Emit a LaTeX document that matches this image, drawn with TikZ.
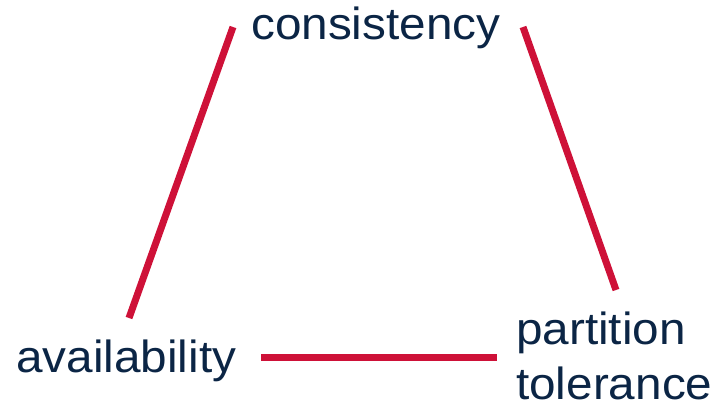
\documentclass[tikz,border=0pt]{standalone}
\usepackage{fontspec}
\usepackage{graphicx}
\setmainfont{Liberation Sans}
\definecolor{navy}{HTML}{0B2545}
\definecolor{crim}{HTML}{CE1138}
\newcommand{\wid}[1]{\scalebox{1.06}[1]{#1}}
\begin{document}
\begin{tikzpicture}[x=1pt,y=-1pt,
  lbl/.style={anchor=base west,inner sep=0pt,text=navy,font=\fontsize{45}{55}\selectfont,align=left},
  edge/.style={draw=crim,line width=7pt}]
\useasboundingbox (0,0) rectangle (720,405);
\node[lbl] (c) at (251,39) {\wid{consistency}};
\node[lbl] (a) at (16,372) {\wid{availability}};
\node[lbl,anchor=north west] (p) at (516,312) {\wid{partition}\\\wid{tolerance}};
\coordinate (c1) at (233,27);
\coordinate (a1) at (129,318);
\coordinate (c2) at (523,27);
\coordinate (p1) at (616,290);
\coordinate (a2) at (261,357);
\coordinate (p2) at (497,357);
\draw[edge] (c1) -- (a1);
\draw[edge] (c2) -- (p1);
\draw[edge] (a2) -- (p2);
\end{tikzpicture}
\end{document}
